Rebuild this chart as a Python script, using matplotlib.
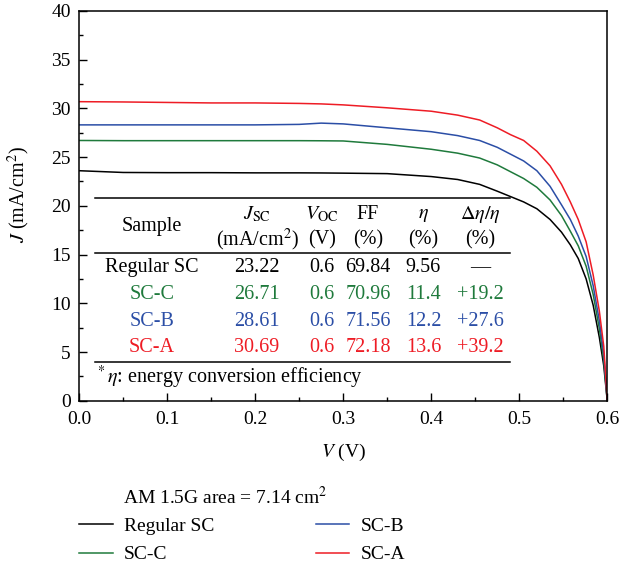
import numpy as np
import matplotlib
matplotlib.use('Agg')
import matplotlib.pyplot as plt
from matplotlib.ticker import MultipleLocator

plt.rcParams['font.family'] = 'serif'
plt.rcParams['font.serif'] = ['Liberation Serif', 'DejaVu Serif']
plt.rcParams['mathtext.fontset'] = 'stix'

# J-V curves
v = [0.0, 0.05, 0.1, 0.15, 0.2, 0.25, 0.275, 0.3, 0.35, 0.4, 0.43, 0.455, 0.475, 0.49,
     0.505, 0.52, 0.535, 0.548, 0.558, 0.567, 0.576, 0.584, 0.591, 0.596, 0.6]
j_regular = [23.6, 23.42, 23.4, 23.4, 23.38, 23.38, 23.37, 23.35, 23.3, 23.0, 22.7, 22.2, 21.5, 20.95,
             20.4, 19.7, 18.6, 17.3, 16.0, 14.6, 12.5, 9.8, 6.5, 3.6, 0.0]
j_scc = [26.7, 26.68, 26.68, 26.68, 26.68, 26.68, 26.67, 26.65, 26.3, 25.8, 25.4, 24.9, 24.2, 23.5,
         22.8, 21.9, 20.6, 19.0, 17.4, 15.9, 13.8, 10.9, 7.4, 4.2, 0.0]
j_scb = [28.3, 28.3, 28.3, 28.3, 28.3, 28.35, 28.48, 28.4, 28.0, 27.6, 27.2, 26.7, 26.0, 25.3,
         24.6, 23.6, 22.0, 20.1, 18.6, 16.9, 14.8, 11.8, 8.2, 4.8, 0.0]
j_sca = [30.68, 30.65, 30.6, 30.55, 30.55, 30.5, 30.45, 30.35, 30.05, 29.7, 29.3, 28.8, 28.0, 27.3,
         26.7, 25.6, 24.1, 22.2, 20.4, 18.6, 16.3, 12.9, 9.2, 5.6, 0.0]

labels = ['Regular SC', 'SC-C', 'SC-B', 'SC-A']
colors = ['black', '#1f7a3c', '#2b4ea6', '#ee1c25']

# table values
jsc = ['23.22', '26.71', '28.61', '30.69']
voc = ['0.6', '0.6', '0.6', '0.6']
ff = ['69.84', '70.96', '71.56', '72.18']
eta = ['9.56', '11.4', '12.2', '13.6']
deta = ['\u2014', '+19.2', '+27.6', '+39.2']

fig = plt.figure(figsize=(6.28, 5.67), dpi=100)
ax = fig.add_axes([0.126, 0.293, 0.841, 0.688])

for jj, lab, c in zip([j_regular, j_scc, j_scb, j_sca], labels, colors):
    ax.plot(v, jj, color=c, lw=1.1, label=lab)

ax.set_xlim(0, 0.6)
ax.set_ylim(0, 40)
ax.xaxis.set_major_locator(MultipleLocator(0.1))
ax.xaxis.set_minor_locator(MultipleLocator(0.05))
ax.yaxis.set_major_locator(MultipleLocator(5))
ax.yaxis.set_minor_locator(MultipleLocator(2.5))
ax.tick_params(which='both', direction='in', labelsize=14, top=False, right=False)
ax.tick_params(which='major', length=6, width=1)
ax.tick_params(which='minor', length=3, width=1)
ax.tick_params(axis='x', pad=7)
ax.tick_params(axis='y', pad=6)
for s in ax.spines.values():
    s.set_linewidth(1.1)
ax.set_xlabel(r'$V$ (V)', fontsize=14, labelpad=10)
ax.set_ylabel(r'$J$ (mA/cm$^2$)', fontsize=14.5)
ax.yaxis.set_label_coords(-0.09, 0.53)

# table inside the axes
fs = 14.5
cols = [0.138, 0.337, 0.460, 0.547, 0.652, 0.759]
tr = ax.transAxes
ax.plot([0.030, 0.816], [0.521, 0.521], color='black', lw=1.1, transform=tr)
ax.plot([0.030, 0.816], [0.379, 0.379], color='black', lw=1.1, transform=tr)
ax.plot([0.030, 0.816], [0.100, 0.100], color='black', lw=1.1, transform=tr)

ax.text(cols[0], 0.446, 'Sample', ha='center', va='center', fontsize=fs, transform=tr)
head1 = [r'$J_{\rm SC}$', r'$V_{\rm OC}$', 'FF', r'$\eta$', r'$\Delta\eta/\eta$']
head2 = [r'(mA/cm$^2$)', '(V)', '(%)', '(%)', '(%)']
for x, h1, h2 in zip(cols[1:], head1, head2):
    ax.text(x, 0.479, h1, ha='center', va='center', fontsize=fs, transform=tr)
    ax.text(x, 0.413, h2, ha='center', va='center', fontsize=fs, transform=tr)

rows_y = [0.341, 0.272, 0.203, 0.138]
for i in range(4):
    vals = [labels[i], jsc[i], voc[i], ff[i], eta[i], deta[i]]
    for x, t in zip(cols, vals):
        ax.text(x, rows_y[i], t, ha='center', va='center', fontsize=fs,
                color=colors[i], transform=tr)

ax.text(0.030, 0.059, r'$^*\eta$: energy conversion efficiency', ha='left', va='center',
        fontsize=fs, transform=tr)

# legend below the plot, title indented to the label text
fig.text(0.196, 0.124, r'AM 1.5G area = 7.14 cm$^2$', ha='left', va='center', fontsize=14)
leg = fig.legend(loc='upper left', bbox_to_anchor=(0.108, 0.108), ncol=2, frameon=False,
                 fontsize=14, handlelength=1.7, handletextpad=0.6, columnspacing=5.2,
                 labelspacing=0.55, borderpad=0.1)

fig.savefig('out.png', dpi=100)
